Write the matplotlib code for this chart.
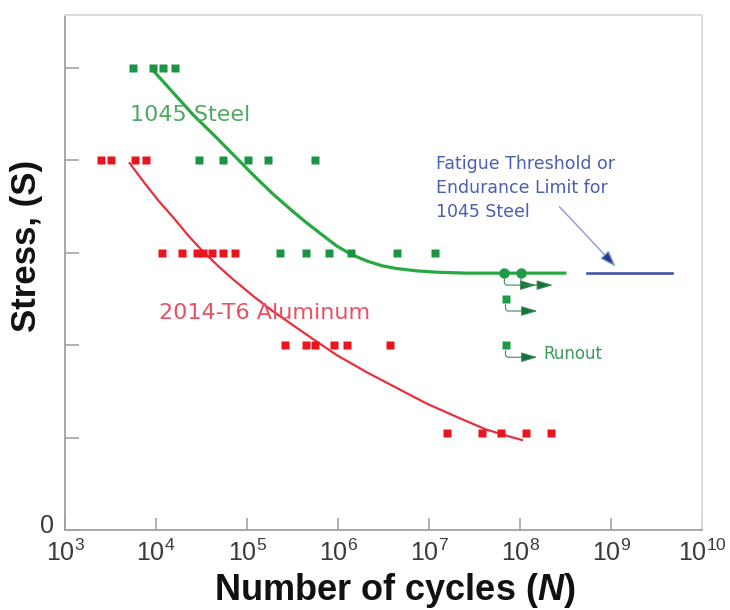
import matplotlib
matplotlib.use('Agg')
import matplotlib.pyplot as plt
from matplotlib.ticker import NullLocator
from matplotlib.transforms import offset_copy, ScaledTranslation
import numpy as np

plt.rcParams['font.family'] = ['Liberation Sans', 'DejaVu Sans']
plt.rcParams['mathtext.fontset'] = 'custom'
plt.rcParams['mathtext.rm'] = 'Liberation Sans'
plt.rcParams['mathtext.it'] = 'Liberation Sans:italic:bold'
plt.rcParams['mathtext.bf'] = 'Liberation Sans:bold'

# S-N data (cycles N, stress S in tick units)
steel_n = [5.6e3, 9.3e3, 1.2e4, 1.6e4,
           2.95e4, 5.5e4, 1.02e5, 1.7e5, 5.6e5,
           2.3e5, 4.4e5, 7.9e5, 1.4e6, 4.4e6, 1.17e7]
steel_s = [5.0, 5.0, 5.0, 5.0,
           4.0, 4.0, 4.0, 4.0, 4.0,
           3.0, 3.0, 3.0, 3.0, 3.0, 3.0]

alu_n = [2.5e3, 3.2e3, 5.9e3, 7.8e3,
         1.17e4, 1.95e4, 2.8e4, 3.3e4, 4.1e4, 5.5e4, 7.4e4,
         2.6e5, 4.4e5, 5.6e5, 9.1e5, 1.26e6, 3.7e6,
         1.58e7, 3.8e7, 6.2e7, 1.17e8, 2.2e8]
alu_s = [4.0, 4.0, 4.0, 4.0,
         3.0, 3.0, 3.0, 3.0, 3.0, 3.0, 3.0,
         2.0, 2.0, 2.0, 2.0, 2.0, 2.0,
         1.05, 1.05, 1.05, 1.05, 1.05]

# runout specimens (steel): circles on the limit line, squares below
runout_circle_n = [6.7e7, 1.02e8]
runout_circle_s = [2.78, 2.78]
runout_square_n = [6.9e7, 6.9e7]
runout_square_s = [2.5, 2.0]

# fitted curves (log10 N, S)
steel_fit_logn = [3.98, 4.20, 4.41, 4.63, 4.85, 5.07, 5.28, 5.50, 5.66, 5.83,
                  5.99, 6.15, 6.32, 6.48, 6.64, 6.86, 7.08, 7.40, 7.84, 8.49]
steel_fit_s = [4.96, 4.72, 4.49, 4.28, 4.06, 3.84, 3.64, 3.45, 3.32, 3.19,
               3.07, 2.98, 2.91, 2.86, 2.83, 2.805, 2.79, 2.78, 2.78, 2.78]
alu_fit_logn = [3.71, 3.87, 4.03, 4.20, 4.36, 4.52, 4.69, 4.85, 5.07, 5.28,
                5.50, 5.72, 5.99, 6.32, 6.64, 6.97, 7.29, 7.62, 7.89, 8.02]
alu_fit_s = [3.97, 3.76, 3.56, 3.37, 3.18, 3.01, 2.85, 2.71, 2.53, 2.37,
             2.22, 2.07, 1.89, 1.705, 1.54, 1.37, 1.23, 1.09, 1.01, 0.975]

endurance_limit = 2.78
endurance_n = [5.4e8, 4.6e9]

xtick_exp = [3, 4, 5, 6, 7, 8, 9, 10]
ytick_vals = [0, 1, 2, 3, 4, 5]

RED = '#e8141e'
GREEN = '#1b9444'

fig = plt.figure(figsize=(7.3, 6.1), dpi=100)
ax = fig.add_axes([0.089, 0.131, 0.873, 0.844])

ax.plot(10.0 ** np.array(steel_fit_logn), steel_fit_s, color='#27a843', lw=2.3,
        solid_joinstyle='round', zorder=2)
ax.plot(10.0 ** np.array(alu_fit_logn), alu_fit_s, color='#e8303c', lw=1.6,
        solid_joinstyle='round', zorder=2)

ax.plot(steel_n, steel_s, 's', color=GREEN, ms=5.5, mec='none', zorder=3)
ax.plot(alu_n, alu_s, 's', color=RED, ms=5.5, mec='none', zorder=3)
ax.plot(runout_circle_n, runout_circle_s, 'o', color='#1f9a48', ms=7.5, mec='none', zorder=3)
ax.plot(runout_square_n, runout_square_s, 's', color='#1f9a48', ms=6, mec='none', zorder=3)

# runout arrows: short elbow from each specimen, then arrowhead to the right
for n, s in zip(runout_circle_n + runout_square_n, runout_circle_s + runout_square_s):
    tip = offset_copy(ax.transData, fig=fig, x=32, y=-12, units='dots')
    ax.annotate('', xy=(n, s), xycoords=tip, xytext=(n, s), textcoords='data',
                arrowprops=dict(arrowstyle='-|>,head_length=1.0,head_width=0.3',
                                fc='#16703a', ec='#3c8a55', lw=0.8,
                                connectionstyle='angle,angleA=90,angleB=0,rad=3',
                                shrinkA=4, shrinkB=0), zorder=4)
ax.annotate('Runout', xy=(runout_square_n[-1], runout_square_s[-1]),
            xytext=(27, -6.5), textcoords='offset points', ha='left', va='center',
            fontsize=12, color='#3a9a5a', family='DejaVu Sans')

# endurance limit line and callout
ax.plot(endurance_n, [endurance_limit] * 2, color='#3f56a8', lw=1.9, zorder=2)
ax.annotate('', xy=(10 ** 9.05, endurance_limit + 0.07), xytext=(10 ** 8.43, 3.5),
            arrowprops=dict(arrowstyle='-|>,head_length=1.0,head_width=0.35',
                            fc='#1f3a8a', ec='#8a9ad0', lw=1.0, shrinkA=0, shrinkB=0))
ax.text(10 ** 7.08, 3.70, 'Fatigue Threshold or\nEndurance Limit for\n1045 Steel',
        ha='left', va='center', fontsize=12.5, color='#4a5eb0', linespacing=1.45,
        family='DejaVu Sans')

ax.text(10 ** 3.71, 4.49, '1045 Steel', ha='left', va='center', fontsize=16,
        color='#4fa864', family='DejaVu Sans')
ax.text(10 ** 4.03, 2.35, '2014-T6 Aluminum', ha='left', va='center', fontsize=16,
        color='#e85064', family='DejaVu Sans')

ax.set_xscale('log')
ax.set_xlim(10 ** xtick_exp[0], 10 ** xtick_exp[-1])
ax.set_ylim(0, 5.57)
ax.set_xticks([10.0 ** e for e in xtick_exp])
ax.set_xticklabels([rf'$\mathregular{{10^{{{e}}}}}$' for e in xtick_exp])
ax.xaxis.set_minor_locator(NullLocator())
ax.set_yticks(ytick_vals)
ax.set_yticklabels(['0'] + [''] * (len(ytick_vals) - 1))

ax.tick_params(axis='both', direction='in', color='#9a9a9a', width=1.1,
               labelcolor='#3a3a3a', labelsize=18)
ax.tick_params(axis='x', length=9, pad=7)
ax.tick_params(axis='y', length=10, pad=8)

# lift the lone "0" a little so it sits clear of 10^3
zero_lbl = ax.get_yticklabels()[0]
zero_lbl.set_transform(zero_lbl.get_transform()
                       + ScaledTranslation(0, 5 / 72, fig.dpi_scale_trans))

for side in ['left', 'bottom']:
    ax.spines[side].set_color('#a0a0a0')
    ax.spines[side].set_linewidth(1.3)
for side in ['top', 'right']:
    ax.spines[side].set_color('#dadada')
    ax.spines[side].set_linewidth(1.3)

ax.set_xlabel('Number of cycles ($N$)', fontsize=26, fontweight='bold', color='#111111')
ax.set_ylabel('Stress, (S)', fontsize=25, fontweight='bold', color='#111111')
ax.xaxis.set_label_coords(0.518, -0.08)
ax.yaxis.set_label_coords(-0.035, 0.551)

fig.savefig('out.png', dpi=100)
